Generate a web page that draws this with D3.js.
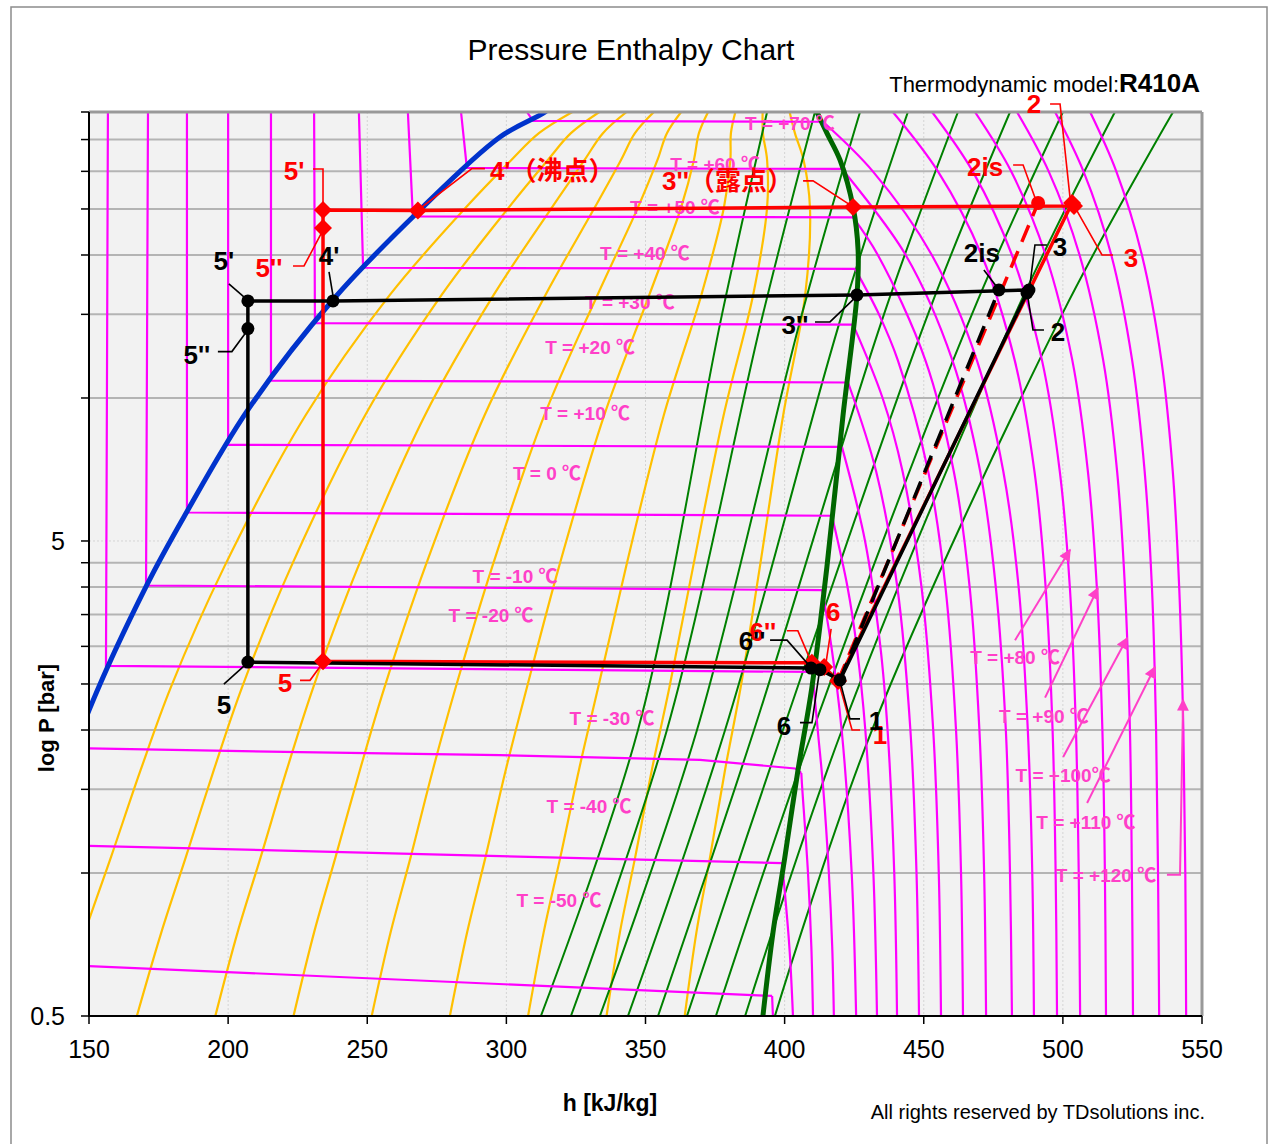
<!DOCTYPE html>
<html>
<head>
<meta charset="utf-8">
<script src="https://cdn.jsdelivr.net/npm/d3@7"></script>
<style>
  body { margin: 0; background: #fff; }
  svg text { font-family: "Liberation Sans", Arial, "Noto Sans CJK JP", sans-serif; }
</style>
</head>
<body>
<svg id="chart" width="1277" height="1144"></svg>
<script>
// ---- chart data (h in kJ/kg, P in bar) ----
const hTicks = [150, 200, 250, 300, 350, 400, 450, 500, 550];
const hGrid = [200, 250, 300, 350, 400, 450, 500];
const pGrid = [1, 1.5, 2, 2.5, 3, 3.5, 4, 4.5, 10, 15, 20, 25, 30, 35, 40];
const pLabels = [0.5, 5];

// saturation lines
const satLiquid = [[142.4,1.65],[150,2.2],[170.8,4.04],[184.5,5.67],[207.1,9.44],[237.7,16.1],
  [268.2,24.64],[297.7,35.43],[313.9,40],[318,42]];
const satVapor = [[392.2,0.5],[395.8,0.748],[400.1,1.081],[404.8,1.647],[409.8,2.46],[415.2,4.41],[421.0,9.21],
  [426.0,16.48],[426.4,20.5],[424.6,25.24],[419.9,31.7],[415.2,36.1],[411.6,40]];

// quality lines x = 0.1 ... 0.9
const qualityP = [0.5, 0.75, 1.08, 1.65, 2.46, 4.41, 9.21, 16.5, 25.2, 31.7, 36.1, 40];
const qualityH = [
  [139.1,148.5,157.9,168.6,179.4,198.6,227.9,258.2,285.5,301.8,311.7,323.7],
  [167.2,176.0,184.8,194.9,205.0,222.6,249.3,276.8,300.9,314.9,323.2,333.4],
  [195.4,203.4,211.7,221.1,230.6,246.7,270.8,295.5,316.4,328.1,334.7,343.2],
  [223.5,230.9,238.6,247.4,256.2,270.8,292.2,314.1,331.8,341.2,346.2,353.0],
  [251.6,258.4,265.6,273.6,281.8,294.9,313.7,332.8,347.3,354.3,357.7,362.8],
  [279.7,285.9,292.5,299.8,307.4,318.9,335.2,351.4,362.8,367.4,369.2,372.5],
  [307.8,313.4,319.4,326.1,333.0,343.0,356.6,370.1,378.2,380.5,380.7,382.3],
  [336.0,340.8,346.3,352.3,358.6,367.1,378.1,388.7,393.7,393.7,392.2,392.1],
  [364.1,368.3,373.2,378.6,384.2,391.1,399.5,407.4,409.1,406.8,403.7,401.8]
];

// isentropes
const isentropeP = [0.5, 2, 15, 40];
const isentropeH = [
  [312.4,347.3,377.5,393.7],
  [323.2,357.7,392.2,410.9],
  [333.6,368.5,406.2,427.1],
  [343.7,378.6,420.6,444.3],
  [354.5,389.0,435.7,462.3],
  [364.9,399.4,451.5,481.0],
  [375.3,410.2,467.3,500.0],
  [385.8,420.6,482.8,518.7],
  [396.5,431.4,499.7,539.6]
];

// isotherms -50 ... +70 : liquid vertical + two-phase horizontal
const isoTemps = [-50, -40, -30, -20, -10, 0, 10, 20, 30, 40, 50, 60, 70];
const isoLiquidFlat = [
  [[150,0.637],[395.5,0.551]],
  [[150,1.141],[399.1,1.049]],
  [[150,1.83],[225.8,1.796],[297.7,1.77],[369.6,1.73],[403.7,1.66],[406.0,1.624]],
  [[156.8,40],[156.1,2.73],[410.0,2.65]],
  [[171.2,40],[170.5,4.03],[413.5,3.94]],
  [[185.2,40],[185.2,5.74],[417.0,5.65]],
  [[200.0,40],[200.0,7.97],[420.6,7.89]],
  [[215.4,40],[215.4,10.88],[422.8,10.78]],
  [[230.9,40],[231.2,14.37],[424.6,14.27]],
  [[247.0,40],[248.5,18.8],[425.3,18.7]],
  [[264.6,40],[266.4,24.12],[424.6,24.0]],
  [[283.7,40],[285.8,30.5],[420.6,30.35]],
  [[307.4,40],[309.6,38.3],[413.8,38.15]]
];
// superheated parts, -50 ... +130
const gasTemps = [-50,-40,-30,-20,-10,0,10,20,30,40,50,60,70,80,90,100,110,120,130];
const isoGas = [
  [[395.5,0.551],[395.8,0.5]],
  [[399.1,1.049],[401.7,0.7],[403.0,0.5]],
  [[406.0,1.624],[406.2,1.548],[408.4,1.0],[409.6,0.7],[410.2,0.5]],
  [[410.0,2.65],[411.9,2],[413.9,1.5],[415.9,1],[417.1,0.7],[417.7,0.5]],
  [[413.5,3.94],[416.8,3],[420.5,2],[424.1,1],[425.7,0.5]],
  [[417.0,5.65],[422.6,4],[425.9,3],[429.0,2],[431.9,1],[433.2,0.5]],
  [[420.6,7.89],[428.9,5],[434.4,3],[437.0,2],[439.4,1],[440.4,0.5]],
  [[422.8,10.78],[432.9,7],[440.5,4],[445.2,2],[447.4,1],[448.3,0.5]],
  [[424.6,14.27],[435.2,10],[442.4,7],[449.2,4],[453.4,2],[455.4,1],[456.2,0.5]],
  [[425.3,18.7],[433.9,15],[440.7,12],[451.6,7],[457.8,4],[461.6,2],[463.4,1],[464.1,0.5]],
  [[424.6,24.0],[433.5,20],[450.6,12],[460.8,7],[466.5,4],[470.0,2],[471.7,1],[472.4,0.5]],
  [[420.6,30.35],[443.5,20],[460.3,12],[470.3,7],[475.9,4],[479.5,2],[481.0,1],[481.7,0.5]],
  [[413.8,38.15],[431.7,30],[452.9,20],[469.1,12],[478.6,7],[484.1,4],[487.4,2],[489.0,1],[489.6,0.5]],
  [[438.9,40],[455.1,30],[470.8,20],[482.7,12],[489.8,7],[493.8,4],[496.3,2],[497.4,1],[497.9,0.5]],
  [[453.0,40],[467.6,30],[481.7,20],[492.5,12],[498.9,7],[502.5,4],[504.7,2],[505.7,1],[506.2,0.5]],
  [[468.4,40],[481.4,30],[493.8,20],[503.4,12],[509.0,7],[512.2,4],[514.2,2],[515.1,1],[515.5,0.5]],
  [[483.5,40],[494.9,30],[506.0,20],[514.5,12],[519.5,7],[522.3,4],[524.1,2],[524.8,1],[525.2,0.5]],
  [[497.2,40],[507.4,30],[517.4,20],[524.9,12],[529.4,7],[532.0,4],[533.5,2],[534.2,1],[534.6,0.5]],
  [[509.8,40],[519.2,30],[528.4,20],[535.4,12],[539.5,7],[541.8,4],[543.3,2],[544.0,1],[544.3,0.5]]
];

// isotherm labels
const tLabelText = ["T = +70 \u2103","T = +60 \u2103","T = +50 \u2103","T = +40 \u2103","T = +30 \u2103","T = +20 \u2103",
  "T = +10 \u2103","T = 0 \u2103","T = -10 \u2103","T = -20 \u2103","T = -30 \u2103","T = -40 \u2103","T = -50 \u2103",
  "T = +80 \u2103","T = +90 \u2103","T = +100\u2103","T = +110 \u2103","T = +120 \u2103"];
const tLabelH = [401.9,375.0,360.6,349.8,344.4,330.1,328.3,314.6,303.1,294.5,338.0,329.7,318.9,482.8,493.2,500.1,508.3,515.5];
const tLabelP = [36.67,30.06,24.4,19.52,15.4,12.38,8.99,6.72,4.08,3.38,2.05,1.34,0.848,2.75,2.07,1.555,1.238,0.957];
// arrows from the +80 ... +120 labels to their lines
const tArrows = [
  [[482.8,3.09],[502.6,4.79]],
  [[493.6,2.34],[512.6,3.98]],
  [[500.1,1.755],[523.1,3.125]],
  [[508.7,1.404],[533.1,2.715]],
  [[537.4,0.991],[542.1,0.991],[543.2,2.314]]
];

// refrigeration cycles
const blackNames = ["1","2","3","2is","3''","4'","5'","5''","5","6''","6"];
const blackCycle = [[419.9,2.55],[487.1,16.64],[487.8,16.88],[477.0,16.88],[426.0,16.48],[237.7,16.01],
  [207.1,16.01],[207.1,14.0],[207.1,2.78],[409.5,2.70],[412.7,2.68]];
const redNames = ["1","2","3","2is","3''","4'","5'","5''","5","6''","6"];
const redCycle = [[419.2,2.537],[503.3,25.74],[504.0,25.37],[491.1,25.74],[424.6,25.25],[268.2,24.8],
  [234.1,24.88],[234.1,22.8],[234.1,2.79],[409.8,2.77],[414.2,2.715]];

// ---- drawing ----
const svg = d3.select("#chart");
const x = d3.scaleLinear().domain([150, 550]).range([89, 1202]);
const y = d3.scaleLog().domain([0.5, 40]).range([1016, 112]);

const MAG = "#ff00ff", LBL = "#ff40c8";

svg.append("rect").attr("x", 11).attr("y", 7).attr("width", 1256).attr("height", 1170)
  .attr("fill", "#fff").attr("stroke", "#8c8c8c").attr("stroke-width", 1.5);

svg.append("rect").attr("x", x(150)).attr("y", y(40))
  .attr("width", x(550) - x(150)).attr("height", y(0.5) - y(40)).attr("fill", "#f2f2f2");

// grid
svg.append("g").selectAll("line").data(hGrid).join("line")
  .attr("x1", d => x(d)).attr("x2", d => x(d)).attr("y1", y(40)).attr("y2", y(0.5))
  .attr("stroke", "#d4d4d4").attr("stroke-width", 1).attr("stroke-dasharray", "2,2");
svg.append("line").attr("x1", x(150)).attr("x2", x(550)).attr("y1", y(5)).attr("y2", y(5))
  .attr("stroke", "#d4d4d4").attr("stroke-width", 1).attr("stroke-dasharray", "2,2");
svg.append("g").selectAll("line").data(pGrid).join("line")
  .attr("x1", x(150)).attr("x2", x(550)).attr("y1", d => y(d)).attr("y2", d => y(d))
  .attr("stroke", "#b4b4b4").attr("stroke-width", 2);

svg.append("clipPath").attr("id", "plotClip").append("rect")
  .attr("x", x(150)).attr("y", y(40)).attr("width", x(550) - x(150)).attr("height", y(0.5) - y(40));
const plot = svg.append("g").attr("clip-path", "url(#plotClip)");

const straight = d3.line().x(d => x(d[0])).y(d => y(d[1]));
const smooth = d3.line().x(d => x(d[0])).y(d => y(d[1])).curve(d3.curveCatmullRom.alpha(0.5));

// quality lines
plot.append("g").selectAll("path").data(qualityH.map(hs => hs.map((h, i) => [h, qualityP[i]])))
  .join("path").attr("d", smooth).attr("fill", "none").attr("stroke", "#ffc000").attr("stroke-width", 2.2);

// isentropes
plot.append("g").selectAll("path").data(isentropeH.map(hs => hs.map((h, i) => [h, isentropeP[i]])))
  .join("path").attr("d", smooth).attr("fill", "none").attr("stroke", "#008000").attr("stroke-width", 2);

// isotherms
plot.append("g").selectAll("path").data(isoLiquidFlat).join("path")
  .attr("d", straight).attr("fill", "none").attr("stroke", MAG).attr("stroke-width", 2.2);
plot.append("g").selectAll("path").data(isoGas).join("path")
  .attr("d", smooth).attr("fill", "none").attr("stroke", MAG).attr("stroke-width", 2.2);

// saturation curves
plot.append("path").datum(satLiquid).attr("d", smooth).attr("fill", "none")
  .attr("stroke", "#0033cc").attr("stroke-width", 5);
plot.append("path").datum(satVapor).attr("d", smooth).attr("fill", "none")
  .attr("stroke", "#006600").attr("stroke-width", 5);

// isotherm labels
svg.append("g").selectAll("text").data(tLabelText).join("text")
  .attr("x", (d, i) => x(tLabelH[i])).attr("y", (d, i) => y(tLabelP[i]))
  .attr("text-anchor", "middle").attr("font-size", 19).attr("font-weight", "bold")
  .attr("fill", LBL).text(d => d);

svg.append("defs").append("marker").attr("id", "arr").attr("viewBox", "0 0 10 10")
  .attr("refX", 9).attr("refY", 5).attr("markerWidth", 7).attr("markerHeight", 6)
  .attr("orient", "auto").append("path").attr("d", "M0,0L10,5L0,10z").attr("fill", LBL);
svg.append("g").selectAll("path").data(tArrows).join("path")
  .attr("d", straight).attr("fill", "none").attr("stroke", LBL).attr("stroke-width", 2)
  .attr("marker-end", "url(#arr)");

// plot border and axes
svg.append("line").attr("x1", x(150)).attr("x2", x(550)).attr("y1", y(40)).attr("y2", y(40))
  .attr("stroke", "#999").attr("stroke-width", 3);
svg.append("line").attr("x1", x(550)).attr("x2", x(550)).attr("y1", y(40)).attr("y2", y(0.5))
  .attr("stroke", "#999").attr("stroke-width", 3);
svg.append("line").attr("x1", x(150)).attr("x2", x(150)).attr("y1", y(40)).attr("y2", y(0.5))
  .attr("stroke", "#000").attr("stroke-width", 2);
svg.append("line").attr("x1", x(150) - 1).attr("x2", x(550)).attr("y1", y(0.5)).attr("y2", y(0.5))
  .attr("stroke", "#000").attr("stroke-width", 2);

svg.append("g").selectAll("line").data(pGrid.concat(pLabels)).join("line")
  .attr("x1", x(150) - 8).attr("x2", x(150)).attr("y1", d => y(d)).attr("y2", d => y(d))
  .attr("stroke", "#000").attr("stroke-width", 1.5);
svg.append("g").selectAll("text").data(pLabels).join("text")
  .attr("x", x(150) - 24).attr("y", d => y(d) + 9).attr("text-anchor", "end")
  .attr("font-size", 25).text(d => d);

svg.append("g").selectAll("line").data(hTicks).join("line")
  .attr("x1", d => x(d)).attr("x2", d => x(d)).attr("y1", y(0.5)).attr("y2", y(0.5) + 8)
  .attr("stroke", "#000").attr("stroke-width", 1.5);
svg.append("g").selectAll("text").data(hTicks).join("text")
  .attr("x", d => x(d)).attr("y", y(0.5) + 42).attr("text-anchor", "middle")
  .attr("font-size", 25).text(d => d);

// titles
svg.append("text").attr("x", 631).attr("y", 60).attr("text-anchor", "middle")
  .attr("font-size", 30).text("Pressure Enthalpy Chart");
const model = svg.append("text").attr("x", 1200).attr("y", 92).attr("text-anchor", "end");
model.append("tspan").attr("font-size", 22).text("Thermodynamic model:");
model.append("tspan").attr("font-size", 26).attr("font-weight", "bold").text("R410A");
svg.append("text").attr("transform", "translate(54,718) rotate(-90)").attr("text-anchor", "middle")
  .attr("font-size", 22).attr("font-weight", "bold").text("log P [bar]");
svg.append("text").attr("x", 610).attr("y", 1111).attr("text-anchor", "middle")
  .attr("font-size", 23).attr("font-weight", "bold").text("h [kJ/kg]");
svg.append("text").attr("x", 1205).attr("y", 1119).attr("text-anchor", "end")
  .attr("font-size", 20).text("All rights reserved by TDsolutions inc.");

// ---- cycles ----
const order = ["1","2","3","3''","4'","5'","5''","5","6''","6","1"];
function cyclePts(names, pts) {
  return order.map(n => pts[names.indexOf(n)]);
}
function pt(names, pts, n) { return pts[names.indexOf(n)]; }

const cyc = svg.append("g");
cyc.append("path").datum(cyclePts(redNames, redCycle)).attr("d", straight).attr("fill", "none")
  .attr("stroke", "#ff0000").attr("stroke-width", 3.5).attr("stroke-linejoin", "round");
cyc.append("path").datum([pt(redNames, redCycle, "1"), pt(redNames, redCycle, "2is")])
  .attr("d", straight).attr("stroke", "#ff0000").attr("stroke-width", 3.5).attr("stroke-dasharray", "18,10");
cyc.append("path").datum(cyclePts(blackNames, blackCycle)).attr("d", straight).attr("fill", "none")
  .attr("stroke", "#000").attr("stroke-width", 3.5).attr("stroke-linejoin", "round");
cyc.append("path").datum([pt(blackNames, blackCycle, "1"), pt(blackNames, blackCycle, "2is")])
  .attr("d", straight).attr("stroke", "#000").attr("stroke-width", 3.5).attr("stroke-dasharray", "18,10");

// red markers: diamonds, 2is as circle
cyc.append("g").selectAll("path").data(redCycle).join("path")
  .attr("transform", d => `translate(${x(d[0])},${y(d[1])})`)
  .attr("d", (d, i) => redNames[i] === "2is" ? "M-7,0A7,7 0 1,0 7,0A7,7 0 1,0 -7,0Z" : "M0,-9L9,0L0,9L-9,0Z")
  .attr("fill", "#ff0000");
cyc.append("g").selectAll("circle").data(blackCycle).join("circle")
  .attr("cx", d => x(d[0])).attr("cy", d => y(d[1])).attr("r", 6.5).attr("fill", "#000");

// point labels with leader lines (offsets in px from the point)
const blackLabels = [
  ["5'", "5'", -24, -31, [[-19,-17],[-4,-4]]],
  ["5''", "5''", -51, 35, [[-30,23],[-16,23],[-2,4]]],
  ["4'", "4'", -4, -36, [[-4,-29],[0,-5]]],
  ["3''", "3''", -62, 39, [[-42,27],[-27,27],[-2,3]]],
  ["2is", "2is", -17, -28, [[-15,-20],[-2,-3]]],
  ["3", "3", 31, -34, [[18,-45],[6,-45],[1,-5]]],
  ["2", "2", 31, 48, [[17,37],[6,37],[1,5]]],
  ["6''", "6''", -59, -18, [[-41,-28],[-24,-28],[-3,-4]]],
  ["6", "6", -36, 65, [[-20,53],[-8,53],[-1,5]]],
  ["1", "1", 36, 50, [[20,39],[10,39],[1,5]]],
  ["5", "5", -24, 52, [[-24,22],[-4,4]]]
];
const redLabels = [
  ["5'", "5'", -29, -30, [[-10,-41],[0,-41],[0,-6]]],
  ["5''", "5''", -54, 49, [[-30,38],[-19,38],[-2,6]]],
  ["4'（沸点）", "4'", 72, -31, [[2,-2],[54,-42],[67,-42]], "start"],
  ["3''（露点）", "3''", -191, -17, [[-50,-26],[-40,-26],[-3,-2]], "start"],
  ["2is", "2is", -53, -27, [[-25,-38],[-15,-38],[-3,-5]]],
  ["2", "2", -38, -90, [[-22,-99],[-12,-99],[-2,-5]]],
  ["3", "3", 57, 61, [[39,49],[28,49],[3,5]]],
  ["6''", "6''", -49, -22, [[-25,-32],[-14,-32],[-2,-4]]],
  ["6", "6", 9, -46, [[7,-38],[2,-5]]],
  ["1", "1", 42, 63, [[22,49],[14,49],[2,6]]],
  ["5", "5", -38, 31, [[-23,19],[-13,19],[-2,4]]]
];

function drawLabels(labels, names, pts, color) {
  const g = svg.append("g");
  labels.forEach(l => {
    const p = pts[names.indexOf(l[1])];
    const px = x(p[0]), py = y(p[1]);
    g.append("path").attr("d", d3.line()(l[4].map(o => [px + o[0], py + o[1]])))
      .attr("fill", "none").attr("stroke", color).attr("stroke-width", 1.6);
    g.append("text").attr("x", px + l[2]).attr("y", py + l[3])
      .attr("text-anchor", l[5] || "middle").attr("font-size", 26).attr("font-weight", "bold")
      .attr("fill", color).text(l[0]);
  });
}
drawLabels(redLabels, redNames, redCycle, "#ff0000");
drawLabels(blackLabels, blackNames, blackCycle, "#000");
</script>
</body>
</html>
